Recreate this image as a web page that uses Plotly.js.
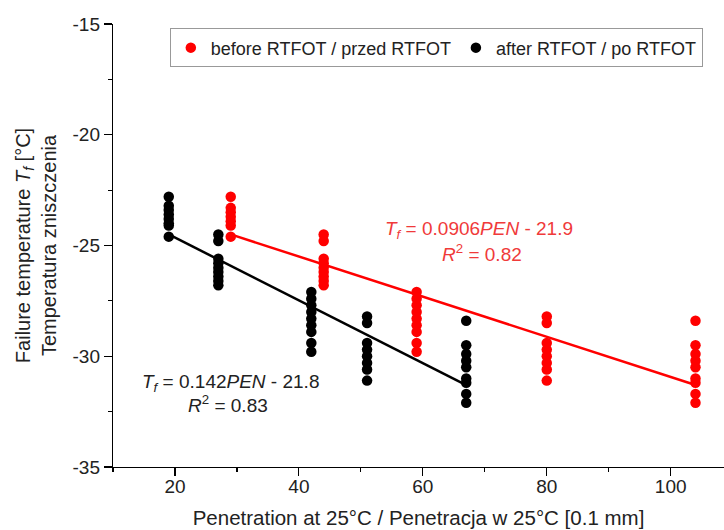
<!DOCTYPE html>
<html>
<head>
<meta charset="utf-8">
<script src="https://cdn.plot.ly/plotly-3.0.1.min.js"></script>
<style>html,body{margin:0;padding:0;background:#fff;}#chart{width:724px;height:530px;}</style>
</head>
<body>
<div id="chart"></div>
<script>
// Before RTFOT (red)
const beforeX = [29,29,29,29,29,29,29,
  44,44,44,44,44,44,44,44,44,
  59,59,59,59,59,59,59,59,59,
  80,80,80,80,80,80,80,80,
  104,104,104,104,104,104,104,104,104];
const beforeY = [-22.8,-23.3,-23.5,-23.7,-23.9,-24.1,-24.6,
  -24.5,-24.8,-25.6,-25.8,-26.0,-26.2,-26.4,-26.6,-26.8,
  -27.1,-27.4,-27.7,-28.0,-28.3,-28.6,-28.9,-29.4,-29.8,
  -28.2,-28.5,-29.4,-29.7,-30.0,-30.3,-30.6,-31.1,
  -28.4,-29.5,-29.9,-30.2,-30.5,-31.0,-31.2,-31.7,-32.1];
// After RTFOT (black)
const afterX = [19,19,19,19,19,19,19,19,
  27,27,27,27,27,27,27,27,27,
  42,42,42,42,42,42,42,42,42,
  51,51,51,51,51,51,51,51,
  67,67,67,67,67,67,67,67,67];
const afterY = [-22.8,-23.2,-23.4,-23.6,-23.8,-24.0,-24.1,-24.6,
  -24.5,-24.8,-25.6,-25.8,-26.0,-26.2,-26.4,-26.6,-26.8,
  -27.1,-27.4,-27.7,-28.0,-28.3,-28.6,-28.9,-29.4,-29.8,
  -28.2,-28.5,-29.4,-29.7,-30.0,-30.3,-30.6,-31.1,
  -28.4,-29.5,-29.9,-30.2,-30.5,-31.0,-31.2,-31.7,-32.1];
// Fit lines (endpoints)
const fitBeforeX = [29, 104];
const fitBeforeY = [-24.5, -31.3];
const fitAfterX = [19, 67];
const fitAfterY = [-24.5, -31.3];

const xTickVals = [20, 40, 60, 80, 100];
const xTickText = ['20', '40', '60', '80', '100'];
const yTickVals = [-35, -30, -25, -20, -15];
const yTickText = ['-35', '-30', '-25', '-20', '-15'];

const RED = '#ff0000';
const BLACK = '#000000';
const TXT = '#222222';
const FONT = 'Liberation Sans, Arial, sans-serif';

const traces = [
  {x: fitBeforeX, y: fitBeforeY, mode: 'lines', line: {color: RED, width: 2.5}, showlegend: false, hoverinfo: 'skip'},
  {x: fitAfterX, y: fitAfterY, mode: 'lines', line: {color: BLACK, width: 2.5}, showlegend: false, hoverinfo: 'skip'},
  {x: beforeX, y: beforeY, mode: 'markers', name: 'before RTFOT / przed RTFOT', marker: {color: RED, size: 10.5}},
  {x: afterX, y: afterY, mode: 'markers', name: 'after RTFOT / po RTFOT', marker: {color: BLACK, size: 10.5}}
];

const layout = {
  width: 724, height: 530,
  margin: {l: 113, r: 0, t: 24, b: 63},
  paper_bgcolor: '#fff', plot_bgcolor: '#fff',
  font: {family: FONT, size: 19, color: TXT},
  showlegend: true,
  legend: {
    orientation: 'h', x: 0.093, y: 0.99, xanchor: 'left', yanchor: 'top',
    bordercolor: '#999', borderwidth: 1, bgcolor: '#fff',
    font: {family: FONT, size: 18, color: TXT},
    itemwidth: 30, tracegroupgap: 0
  },
  xaxis: {
    range: [10, 108.6], showgrid: false, zeroline: false,
    showline: true, linecolor: '#000', linewidth: 1.2,
    ticks: 'outside', ticklen: 8, tickwidth: 1.2, tickcolor: '#000',
    tickvals: xTickVals, ticktext: xTickText, ticklabelstandoff: -6,
    minor: {ticks: 'outside', ticklen: 4, tickwidth: 1.2, tickcolor: '#000', dtick: 10, tick0: 10},
    tickfont: {size: 19, color: TXT},
    title: {text: 'Penetration at 25°C / Penetracja w 25°C [0.1 mm]', font: {size: 20.5, color: TXT}, standoff: 14}
  },
  yaxis: {
    range: [-35, -15], showgrid: false, zeroline: false,
    showline: true, linecolor: '#000', linewidth: 1.2,
    ticks: 'outside', ticklen: 8, tickwidth: 1.2, tickcolor: '#000',
    tickvals: yTickVals, ticktext: yTickText,
    minor: {ticks: 'outside', ticklen: 4, tickwidth: 1.2, tickcolor: '#000', dtick: 2.5, tick0: -35},
    tickfont: {size: 19, color: TXT},
    title: {text: 'Failure temperature <i>T</i><sub><i>f</i></sub> [°C]<br>Temperatura zniszczenia', font: {size: 20, color: TXT}, standoff: 10}
  },
  annotations: [
    {x: 69.0, y: -24.3, xref: 'x', yref: 'y', showarrow: false, text: '<i>T</i><sub><i>f</i></sub> = 0.0906<i>PEN</i> - 21.9', font: {size: 19, color: '#f03a3a'}},
    {x: 69.5, y: -25.35, xref: 'x', yref: 'y', showarrow: false, text: '<i>R</i><sup>2</sup> = 0.82', font: {size: 19, color: '#f03a3a'}},
    {x: 28.9, y: -31.2, xref: 'x', yref: 'y', showarrow: false, text: '<i>T</i><sub><i>f</i></sub> = 0.142<i>PEN</i> - 21.8', font: {size: 19, color: TXT}},
    {x: 28.5, y: -32.15, xref: 'x', yref: 'y', showarrow: false, text: '<i>R</i><sup>2</sup> = 0.83', font: {size: 19, color: TXT}}
  ]
};

Plotly.newPlot('chart', traces, layout, {displayModeBar: false, staticPlot: true});
</script>
</body>
</html>
